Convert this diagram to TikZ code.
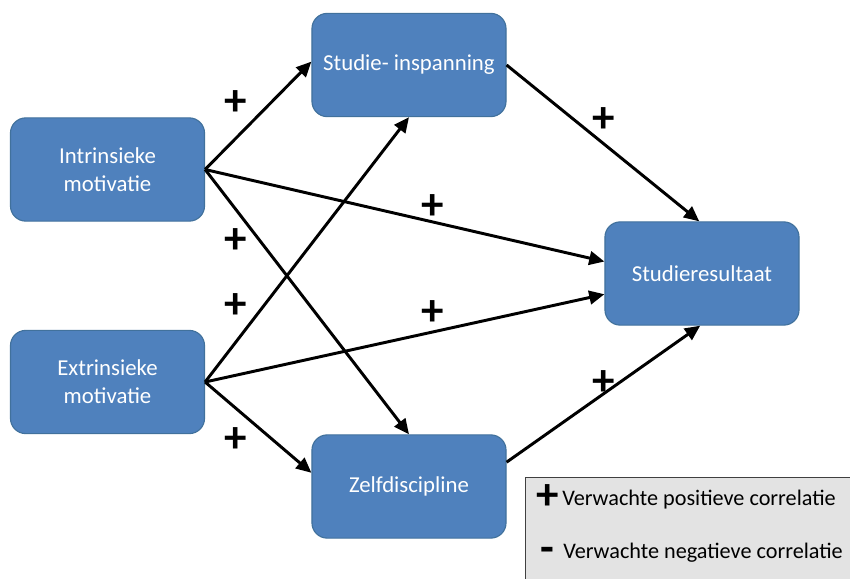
\documentclass[tikz,border=0pt]{standalone}
\usepackage{fontspec}
\setmainfont{Carlito}
\usetikzlibrary{arrows.meta, positioning}
\definecolor{boxBlue}{HTML}{4F81BD}
\definecolor{boxEdge}{HTML}{41719C}
\definecolor{legendFill}{HTML}{E3E3E3}
\tikzset{
  factor/.style = {
    draw=boxEdge,
    fill=boxBlue,
    line width=0.8pt,
    rounded corners=0.38cm,
    text=white,
    align=center,
    minimum width=4.85cm,
    minimum height=2.58cm,
    font=\fontsize{16.2}{20}\selectfont,
  },
  effect/.style = {
    -{Triangle[length=0.38cm, width=0.34cm]},
    line width=2.1pt,
  },
  sign/.style = {
    font=\fontsize{32}{32}\selectfont\bfseries,
    inner sep=0pt,
  },
  legendBox/.style = {
    draw=black!75,
    fill=legendFill,
    line width=1pt,
    minimum width=8.3cm,
    minimum height=2.65cm,
    anchor=north west,
  },
  legendRow/.style = {
    anchor=west,
    inner sep=0pt,
    font=\fontsize{15.8}{18}\selectfont,
  },
}

\begin{document}
\begin{tikzpicture}[x=0.025cm, y=-0.025cm]
\useasboundingbox (0,0) rectangle (850,579);

\node(Intrinsiek)[factor] at (107.5,169.5) {Intrinsieke\\motivatie};
\node(Extrinsiek)[factor] at (107.5,382) {Extrinsieke\\motivatie};
\node(Inspanning)[factor] at (409,65) {Studie- inspanning};
\node(Discipline)[factor] at (409,486.5) {Zelfdiscipline};
\node(Resultaat)[factor] at (702,273.5) {Studieresultaat};

\draw[effect] (Intrinsiek.east) -- (Inspanning.178);
\draw[effect] (Intrinsiek.east) -- (Resultaat.173);
\draw[effect] (Intrinsiek.east) -- (Discipline.north);
\draw[effect] (Extrinsiek.east) -- (Inspanning.south);
\draw[effect] (Extrinsiek.east) -- (Resultaat.192);
\draw[effect] (Extrinsiek.east) -- (Discipline.172);
\draw[effect] (Inspanning.east) -- (Resultaat.93);
\draw[effect] (Discipline.14) -- (Resultaat.268);

\node(plusA)[sign] at (236,103) {+};
\node(plusB)[sign] at (236,241) {+};
\node(plusC)[sign] at (236,306) {+};
\node(plusD)[sign] at (236,440) {+};
\node(plusE)[sign] at (433,207) {+};
\node(plusF)[sign] at (433,313) {+};
\node(plusG)[sign] at (604,120) {+};
\node(plusH)[sign] at (604,383) {+};

% legenda
\node(Legend)[legendBox] at (525,477) {};
\node(PosSign)[sign, anchor=west] at (536,497) {+};
\node(PosText)[legendRow] at (562,500) {Verwachte positieve correlatie};
\node(NegSign)[sign, anchor=west] at (540,555) {-};
\node(NegText)[legendRow] at (563,553) {Verwachte negatieve correlatie};

\end{tikzpicture}
\end{document}
